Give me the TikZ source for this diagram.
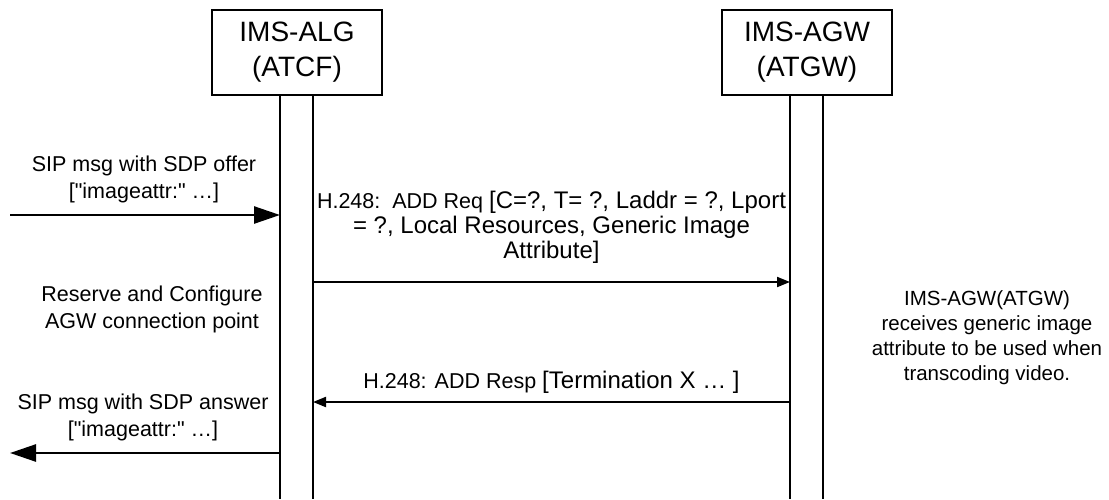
\documentclass[tikz,border=0pt]{standalone}
\usepackage{fontspec}
\setmainfont{Liberation Sans}[Ligatures=TeXOff]
\usepackage{tikz}
\usetikzlibrary{arrows.meta,positioning,calc}
\newcommand{\msgfont}{\fontsize{21.5}{27}\selectfont}
\newcommand{\bigmsgfont}{\fontsize{24}{25}\selectfont}
\tikzset{
  entitybox/.style={draw=black, line width=2.6pt, fill=white, align=center, minimum width=170pt, minimum height=85pt, font=\fontsize{28}{35}\selectfont, inner sep=0pt},
  lifeline/.style={draw=black, line width=1.2pt},
  msgtext/.style={align=center, inner sep=0pt, font=\msgfont},
  notetext/.style={align=center, inner sep=0pt, font=\fontsize{20.5}{25}\selectfont},
  sipmsg/.style={-{Triangle[length=26pt, width=17pt]}, line width=2.6pt, draw=black},
  h248msg/.style={-{Triangle[length=13pt, width=10pt]}, line width=2pt, draw=black}
}
\begin{document}
\begin{tikzpicture}[x=1pt, y=-1pt]
  \useasboundingbox (0,0) rectangle (1109,499);

  \node[entitybox] (alg) at (297,52.5) {IMS-ALG\\(ATCF)};
  \node[entitybox] (agw) at (807,52.5) {IMS-AGW\\(ATGW)};

  % two rails per entity, down to the lower edge
  \coordinate (alg-a) at (280,499);
  \coordinate (alg-b) at (313,499);
  \coordinate (agw-a) at (790,499);
  \coordinate (agw-b) at (823,499);
  \draw[lifeline] (alg.south -| alg-a) -- (alg-a);
  \draw[lifeline] (alg.south -| alg-b) -- (alg-b);
  \draw[lifeline] (agw.south -| agw-a) -- (agw-a);
  \draw[lifeline] (agw.south -| agw-b) -- (agw-b);

  \coordinate (offer-from) at (10,215);
  \coordinate (offer-to) at (280,215);
  \coordinate (req-from) at (313,282);
  \coordinate (req-to) at (790,282);
  \coordinate (resp-from) at (790,402);
  \coordinate (resp-to) at (313,402);
  \coordinate (answer-from) at (280,453);
  \coordinate (answer-to) at (10,453);

  \node[msgtext] (offerlbl) at (144,179) {SIP msg with SDP offer\\{}["imageattr:" …]};
  \node[msgtext] (reservelbl) at (152,309) {Reserve and Configure\\AGW connection point};
  \node[msgtext] (answerlbl) at (143,417) {SIP msg with SDP answer\\{}["imageattr:" …]};
  \node[msgtext, font=\bigmsgfont] (reqlbl) at (551.5,227)
    {{\msgfont H.248:\ \ ADD Req }[C=?, T= ?, Laddr = ?, Lport\\= ?, Local Resources, Generic Image\\Attribute]};
  \node[msgtext] (resplbl) at (551.5,382) {H.248: ADD Resp {\bigmsgfont[Termination X … ]}};
  \node[notetext] (notelbl) at (987,338)
    {IMS-AGW(ATGW)\\receives generic image\\attribute to be used when\\transcoding video.};

  \draw[sipmsg] (offer-from) -- (offer-to);
  \draw[h248msg] (req-from) -- (req-to);
  \draw[h248msg] (resp-from) -- (resp-to);
  \draw[sipmsg] (answer-from) -- (answer-to);
\end{tikzpicture}
\end{document}
